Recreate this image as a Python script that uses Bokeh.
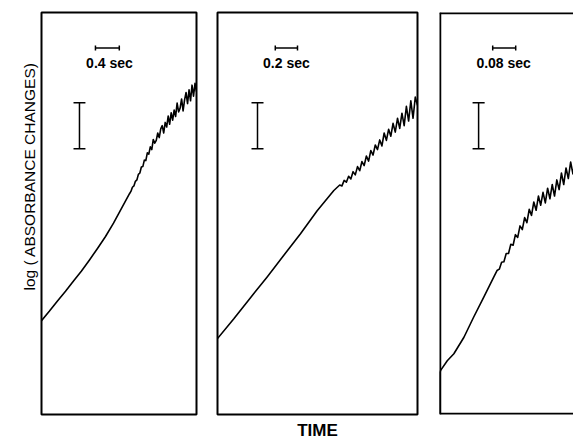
import math
from bokeh.plotting import figure
from bokeh.layouts import row
from bokeh.models import Range1d, Label, Span, Title
from bokeh.embed import file_html
from bokeh.resources import INLINE

# ---------------- data (time in s, log absorbance change in arbitrary units) -------------
t1 = [0.000, 0.134, 0.268, 0.403, 0.537, 0.671, 0.805, 0.939, 1.074, 1.208,
      1.342, 1.476,
      1.500, 1.525, 1.550, 1.575, 1.600, 1.625, 1.650, 1.675, 1.700, 1.725,
      1.750, 1.775, 1.800, 1.825, 1.850, 1.875, 1.900, 1.925, 1.950, 1.975,
      2.000, 2.025, 2.050, 2.075, 2.100, 2.125, 2.150, 2.175, 2.200, 2.225,
      2.250, 2.275, 2.300, 2.325, 2.350, 2.375, 2.400, 2.425, 2.450, 2.475,
      2.500, 2.525, 2.550, 2.575, 2.600]
y1 = [2.04, 2.25, 2.47, 2.68, 2.90, 3.12, 3.36, 3.61, 3.87, 4.16,
      4.48, 4.80,
      4.85, 4.94, 4.97, 5.07, 5.10, 5.22, 5.25, 5.38, 5.39, 5.53,
      5.52, 5.69, 5.66, 5.82, 5.76, 5.98, 5.90, 5.96, 6.12, 6.02,
      6.21, 6.28, 6.12, 6.35, 6.25, 6.49, 6.31, 6.56, 6.40, 6.62,
      6.48, 6.77, 6.58, 6.66, 6.86, 6.60, 6.84, 7.00, 6.76, 7.06,
      6.82, 7.16, 6.92, 7.20, 7.02]

t2 = [0.000, 0.147, 0.297, 0.447, 0.597, 0.747, 0.897, 1.047,
      1.10, 1.12, 1.14, 1.16, 1.18, 1.20, 1.22, 1.24, 1.26, 1.28,
      1.30, 1.32, 1.34, 1.36, 1.38, 1.40, 1.42, 1.44, 1.46, 1.48,
      1.50, 1.52, 1.54, 1.56, 1.58, 1.60, 1.62, 1.64, 1.66, 1.68,
      1.70, 1.72, 1.74, 1.76, 1.78, 1.80]
y2 = [1.65, 2.08, 2.54, 2.99, 3.46, 3.93, 4.43, 4.87,
      4.99, 4.97, 5.09, 5.05, 5.18, 5.12, 5.28, 5.21, 5.39, 5.30,
      5.50, 5.41, 5.62, 5.51, 5.74, 5.64, 5.86, 5.76, 5.97, 5.84,
      6.12, 5.96, 6.20, 6.05, 6.33, 6.14, 6.44, 6.22, 6.55, 6.28,
      6.70, 6.38, 6.82, 6.44, 6.90, 6.72]

t3 = [0.000, 0.000, 0.004, 0.027, 0.050, 0.085, 0.119, 0.154, 0.189,
      0.200, 0.208, 0.216, 0.224, 0.232, 0.240, 0.248, 0.256, 0.264, 0.272,
      0.280, 0.288, 0.296, 0.304, 0.312, 0.320, 0.328, 0.336, 0.344, 0.352,
      0.360, 0.368, 0.376, 0.384, 0.392, 0.400, 0.408, 0.416, 0.424, 0.432,
      0.440, 0.448, 0.456, 0.464, 0.472]
y3 = [0.02, 0.90, 0.96, 1.17, 1.32, 1.68, 2.12, 2.55, 2.99,
      3.13, 3.16, 3.31, 3.32, 3.50, 3.50, 3.70, 3.68, 3.91, 3.85,
      4.10, 4.02, 4.28, 4.17, 4.46, 4.33, 4.62, 4.44, 4.75, 4.55,
      4.83, 4.60, 4.92, 4.69, 5.00, 4.75, 5.10, 4.89, 5.25, 5.00,
      5.36, 5.13, 5.49, 5.23, 5.51]

time_scales = [0.4, 0.2, 0.08]            # horizontal scale bars (s)
time_labels = ["0.4 sec", "0.2 sec", "0.08 sec"]
abs_scale = 1.0                            # vertical scale bar (log units)
y_title = "log ( ABSORBANCE CHANGES)"
x_title = "TIME"

FONT = "Liberation Sans"
Y_MAX = 8.74

panels = [
    dict(t=t1, y=y1, xend=2.6, width=206, bl=41, br=10, hb=0.905, lx=1.14, vx=0.637, cap=0.10),
    dict(t=t2, y=y2, xend=1.8, width=222, bl=11, br=11, hb=0.52, lx=0.62, vx=0.36, cap=0.054),
    dict(t=t3, y=y3, xend=0.466, width=145, bl=11, br=0, hb=0.185, lx=0.223, vx=0.136, cap=0.021),
]

figs = []
for i, pd in enumerate(panels):
    p = figure(width=pd["width"], height=444, output_backend="svg", toolbar_location=None,
               x_range=Range1d(0, pd["xend"]), y_range=Range1d(0, Y_MAX),
               min_border_left=pd["bl"], min_border_right=pd["br"],
               min_border_top=12, min_border_bottom=30)
    p.xaxis.visible = False
    p.yaxis.visible = False
    p.grid.visible = False
    p.background_fill_color = "white"
    p.border_fill_color = "white"
    if i < 2:
        p.outline_line_color = "black"
        p.outline_line_width = 2
    else:
        p.outline_line_color = None
        for loc, dim in [(0, "height"), (0, "width"), (Y_MAX, "width")]:
            p.add_layout(Span(location=loc, dimension=dim, line_color="black", line_width=3.5))

    p.line(pd["t"], pd["y"], line_color="black", line_width=1.6, line_join="round")

    # horizontal time scale bar
    hs = time_scales[i]
    hb = pd["hb"]
    yb = 7.97
    p.segment(x0=[hb, hb, hb + hs], y0=[yb, yb - 0.055, yb - 0.055],
              x1=[hb + hs, hb, hb + hs], y1=[yb, yb + 0.055, yb + 0.055],
              line_color="black", line_width=1.5)
    p.add_layout(Label(x=pd["lx"], y=7.64, text=time_labels[i], text_align="center",
                       text_baseline="middle", text_font=FONT, text_font_size="14px",
                       text_font_style="bold", text_color="black"))

    # vertical absorbance scale bar
    vx, c = pd["vx"], pd["cap"]
    v0 = 5.78
    p.segment(x0=[vx, vx - c, vx - c], y0=[v0, v0, v0 + abs_scale],
              x1=[vx, vx + c, vx + c], y1=[v0 + abs_scale, v0, v0 + abs_scale],
              line_color="black", line_width=1.5)
    figs.append(p)

figs[0].add_layout(Title(text=y_title, align="left", offset=124, standoff=8,
                         text_font=FONT, text_font_size="15.5px", text_font_style="normal",
                         text_color="black"), "left")
figs[1].add_layout(Title(text=x_title, align="center", standoff=9,
                         text_font=FONT, text_font_size="17px", text_font_style="bold",
                         text_color="black"), "below")

layout = row(*figs)
open("out.html", "w").write(file_html(layout, INLINE))
